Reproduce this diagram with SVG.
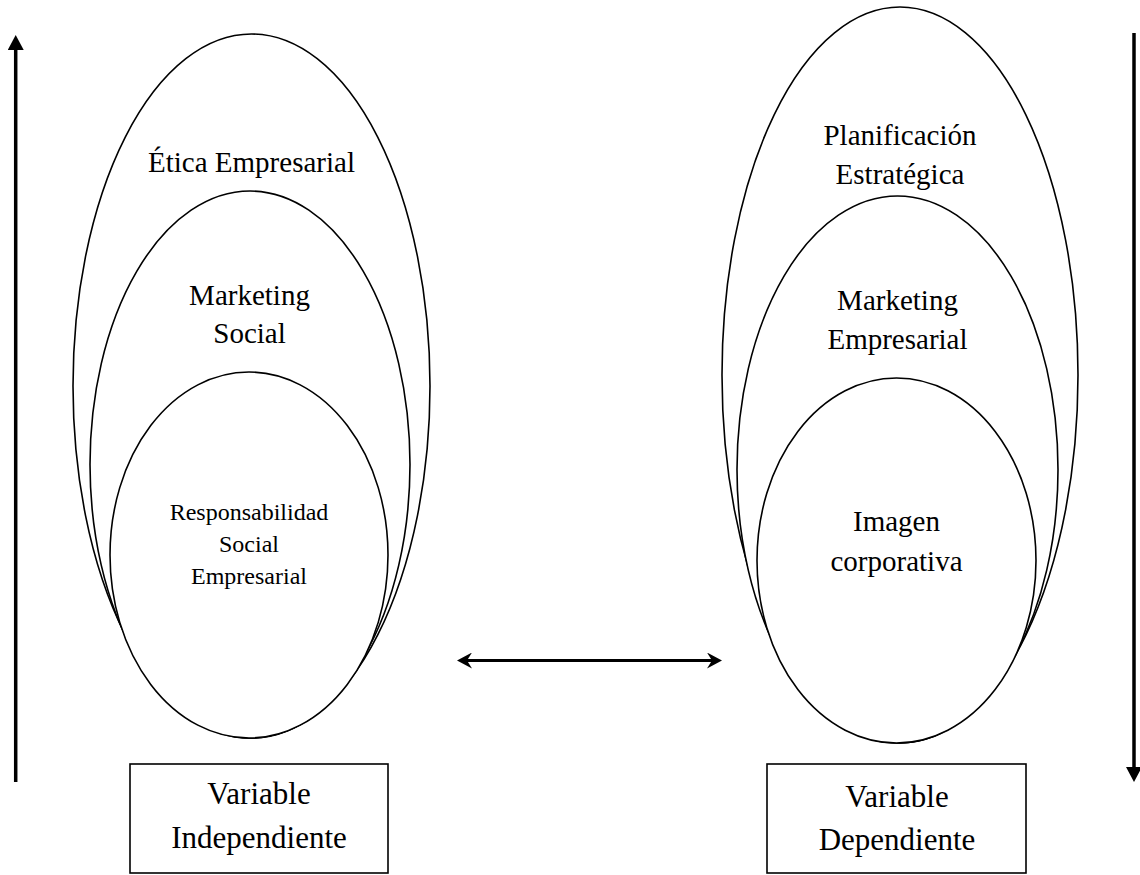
<svg xmlns="http://www.w3.org/2000/svg" width="1140" height="875" viewBox="0 0 1140 875">
<style>
.sh{fill:#fff;stroke:#000;stroke-width:1.6}
.t{font-family:"Liberation Serif","Times New Roman",serif;fill:#000;text-anchor:middle}
.l{font-size:29px}
.s{font-size:24px}
.b{font-size:31px}
.ax{fill:none;stroke:#000;stroke-width:3.5}
.dx{fill:none;stroke:#000;stroke-width:3}
</style>
<defs>
<marker id="tri" viewBox="0 0 15 16" refX="0" refY="8" markerUnits="userSpaceOnUse" markerWidth="15" markerHeight="16" orient="auto">
<path d="M0,0 L15,8 L0,16 z" fill="#000"/>
</marker>
<marker id="barb" viewBox="0 0 15 16" refX="5" refY="8" markerUnits="userSpaceOnUse" markerWidth="15" markerHeight="16" orient="auto-start-reverse">
<path d="M0,0 L15,8 L0,16 L5,8 z" fill="#000"/>
</marker>
</defs>
<rect width="1140" height="875" fill="#fff"/>

<g id="etica">
<ellipse class="sh" cx="251.5" cy="386" rx="178.5" ry="352"/>
<text class="t l" x="251.5" y="172">Ética Empresarial</text>
</g>
<g id="marketing-social">
<ellipse class="sh" cx="250" cy="464.5" rx="160" ry="273.5"/>
<text class="t l" x="249.5" y="305">Marketing</text>
<text class="t l" x="249.5" y="343">Social</text>
</g>
<g id="rse">
<ellipse class="sh" cx="249" cy="555" rx="139" ry="183"/>
<text class="t s" x="249" y="520">Responsabilidad</text>
<text class="t s" x="249" y="552">Social</text>
<text class="t s" x="249" y="584">Empresarial</text>
</g>
<g id="var-independiente">
<rect class="sh" x="130" y="764" width="258" height="109"/>
<text class="t b" x="259" y="804">Variable</text>
<text class="t b" x="259" y="848">Independiente</text>
</g>

<g id="planificacion">
<ellipse class="sh" cx="900" cy="375" rx="178" ry="368"/>
<text class="t l" x="900" y="145">Planificación</text>
<text class="t l" x="900" y="184">Estratégica</text>
</g>
<g id="marketing-empresarial">
<ellipse class="sh" cx="897.5" cy="469.5" rx="160.5" ry="273.5"/>
<text class="t l" x="897.5" y="310">Marketing</text>
<text class="t l" x="897.5" y="349">Empresarial</text>
</g>
<g id="imagen">
<ellipse class="sh" cx="896.5" cy="560.5" rx="139.5" ry="182.5"/>
<text class="t l" x="896.5" y="531">Imagen</text>
<text class="t l" x="896.5" y="571">corporativa</text>
</g>
<g id="var-dependiente">
<rect class="sh" x="767" y="764" width="259" height="109"/>
<text class="t b" x="897" y="807">Variable</text>
<text class="t b" x="897" y="850">Dependiente</text>
</g>

<g id="connectors">
<path class="ax" d="M15.7,782 L15.7,50" marker-end="url(#tri)"/>
<path class="ax" d="M1134,33 L1134,767" marker-end="url(#tri)"/>
<path class="dx" d="M467,660.5 L712,660.5" marker-start="url(#barb)" marker-end="url(#barb)"/>
</g>
</svg>
